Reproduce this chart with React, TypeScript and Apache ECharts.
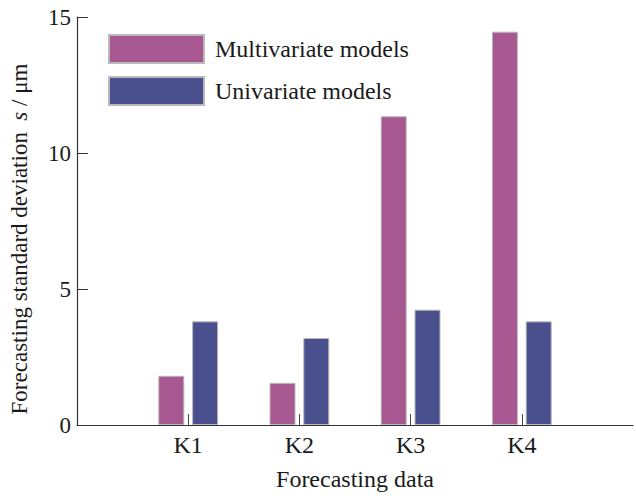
import React, { useEffect, useRef } from "react";
import * as echarts from "echarts";

const categories = ["", "K1", "K2", "K3", "K4", ""];
const multivariate = [null, 1.81, 1.55, 11.35, 14.46, null];
const univariate = [null, 3.81, 3.2, 4.24, 3.81, null];
const seriesNames = ["Multivariate models", "Univariate models"];
const yTicks = { min: 0, max: 15, interval: 5 };

const FONT = "'Liberation Serif', 'Times New Roman', serif";
const MAGENTA = "#a85891";
const BLUE = "#4a4f8e";
const TEXT = "#1a1a1a";

export default function App() {
  const ref = useRef<HTMLDivElement>(null);
  useEffect(() => {
    if (!ref.current) return;
    const chart = echarts.init(ref.current, undefined, { renderer: "svg" });
    const showTick = (i: number) => i >= 1 && i <= 4;
    chart.setOption({
      animation: false,
      backgroundColor: "#ffffff",
      textStyle: { fontFamily: FONT },
      grid: { left: 77, right: 3, top: 17, bottom: 69, containLabel: false },
      legend: {
        left: 108,
        top: 34,
        padding: 0,
        orient: "vertical",
        itemWidth: 95,
        itemHeight: 28,
        itemGap: 12,
        icon: "rect",
        textStyle: { fontFamily: FONT, fontSize: 24, color: TEXT, padding: [0, 0, 0, 6] },
        data: seriesNames,
      },
      xAxis: {
        type: "category",
        data: categories,
        boundaryGap: false,
        name: "Forecasting data",
        nameLocation: "middle",
        nameGap: 42,
        nameTextStyle: { fontFamily: FONT, fontSize: 24, color: TEXT },
        axisLine: { lineStyle: { color: "#333", width: 1.2 } },
        axisTick: { show: true, inside: true, length: 11, interval: (i: number) => showTick(i), lineStyle: { color: "#444" } },
        axisLabel: { fontFamily: FONT, fontSize: 24, color: TEXT, margin: 8, interval: (i: number) => showTick(i) },
        splitLine: { show: false },
      },
      yAxis: {
        type: "value",
        min: yTicks.min,
        max: yTicks.max,
        interval: yTicks.interval,
        name: "Forecasting standard deviation  {i|s} / μm",
        nameLocation: "middle",
        nameGap: 46,
        nameTextStyle: {
          fontFamily: FONT,
          fontSize: 23,
          color: TEXT,
          padding: [0, 36, 0, 0],
          rich: { i: { fontFamily: FONT, fontSize: 23, fontStyle: "italic", color: TEXT } },
        },
        axisLine: { show: true, lineStyle: { color: "#333", width: 1.2 } },
        axisTick: { show: true, inside: true, length: 11, lineStyle: { color: "#333" } },
        axisLabel: { fontFamily: FONT, fontSize: 23, color: TEXT, margin: 6 },
        splitLine: { show: false },
      },
      series: [
        {
          name: seriesNames[0],
          type: "bar",
          data: multivariate,
          barWidth: 26,
          barGap: "30%",
          itemStyle: { color: MAGENTA, borderColor: "#b9b9b9", borderWidth: 1 },
        },
        {
          name: seriesNames[1],
          type: "bar",
          data: univariate,
          barWidth: 26,
          barGap: "30%",
          itemStyle: { color: BLUE, borderColor: "#b9b9b9", borderWidth: 1 },
        },
      ],
    });
    return () => chart.dispose();
  }, []);
  return <div ref={ref} style={{ width: 636, height: 496, position: "absolute", left: 0, top: 0 }} />;
}
